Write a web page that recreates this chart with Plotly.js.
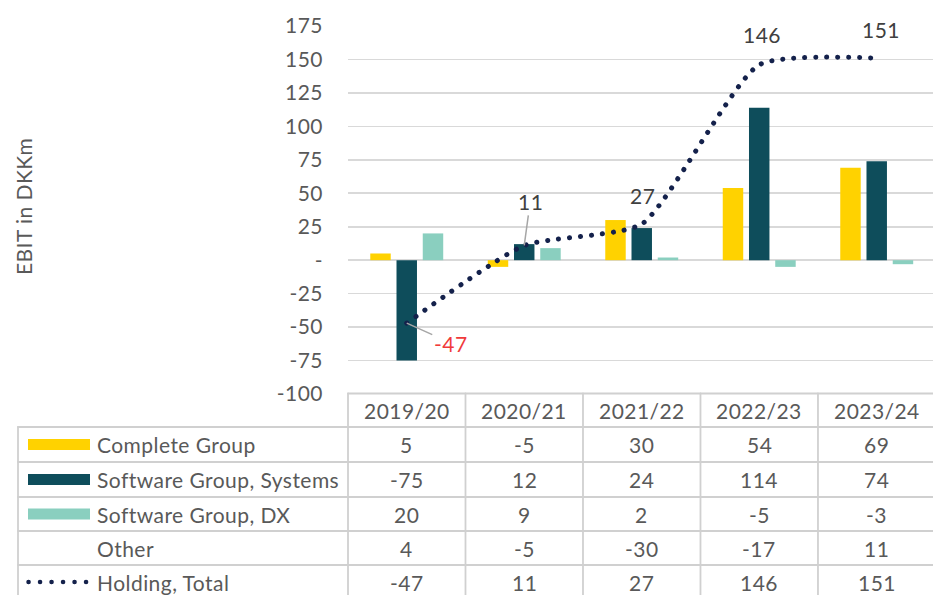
<!DOCTYPE html>
<html><head><meta charset="utf-8">
<script src="https://cdn.plot.ly/plotly-3.0.1.min.js"></script>
<style>
html,body{margin:0;padding:0;background:#fff;}
#chart{width:933px;height:595px;}
.scatterlayer .js-line{stroke-linecap:round;}
.shapelayer path{stroke-linecap:round;}
svg text{letter-spacing:0.45px;}
</style></head><body><div id="chart"></div>
<script>
// ---- data ----
const categories = ['2019/20','2020/21','2021/22','2022/23','2023/24'];
const completeGroup = [5,-5,30,54,69];
const softwareSystems = [-75,12,24,114,74];
const softwareDX = [20,9,2,-5,-3];
const other = [4,-5,-30,-17,11];
const holdingTotal = [-47,11,27,146,151];
const seriesNames = ['Complete Group','Software Group, Systems','Software Group, DX','Other','Holding, Total'];
const yTickVals = [-100,-75,-50,-25,0,25,50,75,100,125,150,175];
const yTickText = ['-100','-75','-50','-25','-','25','50','75','100','125','150','175'];

// ---- styles ----
const C_YEL = '#FFD200', C_DARK = '#0E4D5B', C_LIGHT = '#8ACFBF', C_LINE = '#14214B';
const TXT = '#595959', GRID = '#D9D9D9', TBL = '#D0D0D0';
const FONT = 'Lato, "Open Sans", sans-serif';
const FS = 21;

const W = 933, H = 595, L = 348, T = 26, PW = 585, PH = 368;
const pX = x => (x - L) / PW;
const pY = y => (T + PH - y) / PH;

const traces = [
  {type:'bar', name:seriesNames[0], x:categories, y:completeGroup, marker:{color:C_YEL}},
  {type:'bar', name:seriesNames[1], x:categories, y:softwareSystems, marker:{color:C_DARK}},
  {type:'bar', name:seriesNames[2], x:categories, y:softwareDX, marker:{color:C_LIGHT}},
  {type:'scatter', mode:'lines', name:seriesNames[4], x:categories, y:holdingTotal,
   line:{color:C_LINE, width:5, dash:'0.1px,10.9px', shape:'spline', smoothing:0.55}}
];

const shapes = [];
const annotations = [];
const lineS = (x0,y0,x1,y1,xref) => shapes.push({type:'line', xref:xref||'paper', yref:'paper',
  x0:x0, y0:y0, x1:x1, y1:y1, line:{color:TBL, width:1.8}});

// table grid
const rowLines = [427, 462, 497, 531, 565];
lineS(0, pY(393.5), 1, pY(393.5));
rowLines.forEach(r => lineS(pX(18), pY(r), 1, pY(r)));
lineS(pX(18), pY(427), pX(18), pY(600));
lineS(0, pY(393.5), 0, pY(600));
for (let i = 0; i < categories.length - 1; i++) {
  shapes.push({type:'line', xref:'x', yref:'paper', x0:i+0.5, x1:i+0.5, y0:pY(393.5), y1:pY(600),
    line:{color:TBL, width:1.8}});
}

// header
const headerY = 410;
categories.forEach(c => annotations.push({xref:'x', yref:'paper', x:c, y:pY(headerY), text:c,
  showarrow:false, xanchor:'center', yanchor:'middle', font:{family:FONT, size:FS, color:TXT}}));

// rows
const rowCenters = [444.5, 479.5, 514, 548, 582];
const rowData = [completeGroup, softwareSystems, softwareDX, other, holdingTotal];
const swatchColors = [C_YEL, C_DARK, C_LIGHT, null, null];
rowData.forEach((arr, r) => {
  const yc = rowCenters[r];
  annotations.push({xref:'paper', yref:'paper', x:pX(95), y:pY(yc), text:seriesNames[r], showarrow:false,
    xanchor:'left', yanchor:'middle', font:{family:FONT, size:FS, color:TXT}});
  if (swatchColors[r]) {
    shapes.push({type:'rect', xref:'paper', yref:'paper', x0:pX(28), x1:pX(90), y0:pY(yc+5.5), y1:pY(yc-5.5),
      fillcolor:swatchColors[r], line:{width:0}});
  }
  arr.forEach((v, i) => annotations.push({xref:'x', yref:'paper', x:categories[i], y:pY(yc), text:String(v),
    showarrow:false, xanchor:'center', yanchor:'middle', font:{family:FONT, size:FS, color:TXT}}));
});
// holding swatch (dotted)
shapes.push({type:'line', xref:'paper', yref:'paper', x0:pX(28.5), x1:pX(88), y0:pY(rowCenters[4]), y1:pY(rowCenters[4]),
  line:{color:C_LINE, width:4.5, dash:'0.1px,11.4px'}});

// y axis title
annotations.push({xref:'paper', yref:'paper', x:pX(23), y:pY(207), text:'EBIT in DKKm', textangle:-90,
  showarrow:false, xanchor:'center', yanchor:'middle', font:{family:FONT, size:FS, color:TXT}});

// data labels for Holding, Total
const lblFont = {family:FONT, size:FS, color:'#404040'};
annotations.push({x:categories[0], y:holdingTotal[0], text:String(holdingTotal[0]), showarrow:true, arrowhead:0,
  arrowwidth:1.5, arrowcolor:'#A6A6A6', ax:44, ay:20, standoff:0, font:{family:FONT, size:FS, color:'#F03A3A'}});
annotations.push({x:categories[1], y:holdingTotal[1], text:String(holdingTotal[1]), showarrow:true, arrowhead:0,
  arrowwidth:1.5, arrowcolor:'#A6A6A6', ax:6, ay:-44, standoff:0, font:lblFont});
annotations.push({x:categories[2], y:holdingTotal[2], text:String(holdingTotal[2]), showarrow:false,
  xshift:1, yshift:29, font:lblFont});
annotations.push({x:categories[3], y:holdingTotal[3], text:String(holdingTotal[3]), showarrow:false,
  xshift:3, yshift:30, font:lblFont});
annotations.push({x:categories[4], y:holdingTotal[4], text:String(holdingTotal[4]), showarrow:false,
  xshift:4, yshift:29, font:lblFont});

const layout = {
  width:W, height:H, margin:{l:L, r:W-L-PW, t:T, b:H-T-PH, pad:0},
  paper_bgcolor:'#fff', plot_bgcolor:'#fff', showlegend:false,
  font:{family:FONT, size:FS, color:TXT},
  barmode:'group', bargap:0.33, bargroupgap:0.22,
  xaxis:{type:'category', range:[-0.5, 4.479], showticklabels:false, showgrid:false, zeroline:false,
    showline:false, ticks:'', fixedrange:true},
  yaxis:{range:[-100,175], tickvals:yTickVals, ticktext:yTickText, showgrid:true, gridcolor:GRID, gridwidth:1.6,
    zeroline:true, zerolinecolor:GRID, zerolinewidth:1.6, showline:false, ticks:'', ticklabelstandoff:24,
    tickfont:{family:FONT, size:FS, color:TXT}, fixedrange:true},
  shapes:shapes, annotations:annotations, hovermode:false
};

Plotly.newPlot('chart', traces, layout, {displayModeBar:false, staticPlot:true});
</script></body></html>
